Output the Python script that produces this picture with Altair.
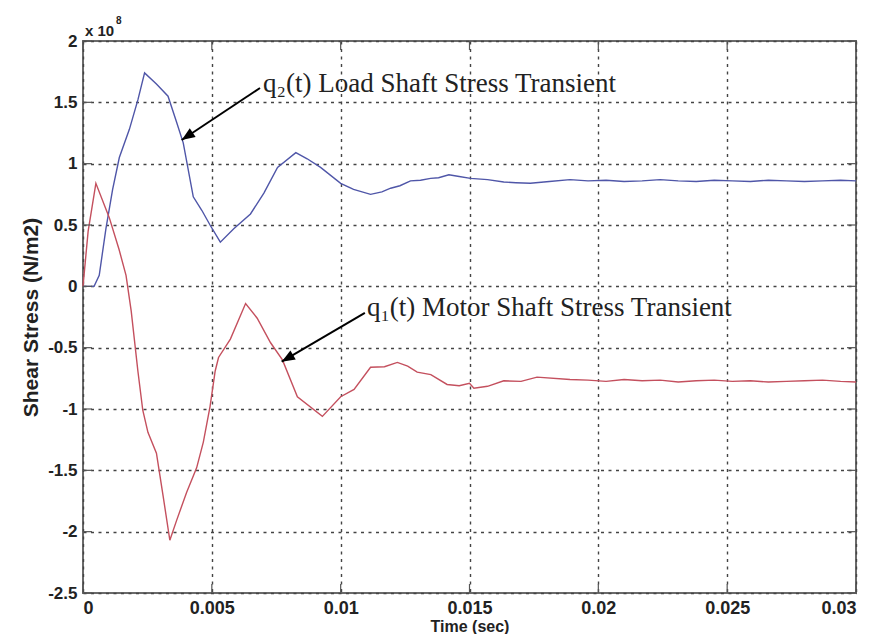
import math
import altair as alt
import pandas as pd

# ---------------- data (values in units of 1e8 N/m2) ----------------
q2_t = [0, 0.00043, 0.00063, 0.00089, 0.00115, 0.00141, 0.0018, 0.00213, 0.00239,
        0.00285, 0.0033, 0.00363, 0.00389, 0.00428, 0.00461, 0.00493, 0.00533,
        0.00585, 0.0065, 0.00702, 0.00755, 0.00826, 0.0087, 0.00922, 0.0100,
        0.0105, 0.01116, 0.0116, 0.01194, 0.0123, 0.01271, 0.0131, 0.01349, 0.0138,
        0.0142, 0.0146, 0.01504, 0.0157, 0.01633, 0.0168,
        0.01736, 0.0181, 0.0189, 0.0196, 0.0203, 0.0210, 0.0217, 0.0224, 0.0231,
        0.0238, 0.0245, 0.0252, 0.0259, 0.0266, 0.0273, 0.0280, 0.0287, 0.0294, 0.0300]
q2_v = [0, 0, 0.09, 0.47, 0.79, 1.05, 1.28, 1.52, 1.74,
        1.65, 1.55, 1.34, 1.17, 0.73, 0.62, 0.50, 0.36,
        0.47, 0.59, 0.76, 0.97, 1.09, 1.04, 0.97, 0.84,
        0.79, 0.75, 0.77, 0.80, 0.82, 0.86, 0.865, 0.88, 0.885,
        0.91, 0.895, 0.88, 0.87, 0.85, 0.845,
        0.84, 0.855, 0.87, 0.86, 0.865, 0.855, 0.86, 0.87, 0.86,
        0.855, 0.865, 0.86, 0.855, 0.865, 0.86, 0.855, 0.86, 0.865, 0.86]

q1_t = [0, 0.0002, 0.0005, 0.00102, 0.0014, 0.00167, 0.00187, 0.00213, 0.00232,
        0.00252, 0.00285, 0.00311, 0.00337, 0.00363, 0.00402, 0.00441, 0.00467,
        0.00493, 0.00513, 0.00526, 0.00572, 0.00631, 0.00676, 0.00728, 0.00774,
        0.00832, 0.00929, 0.0100, 0.01052, 0.01116, 0.0117, 0.0122, 0.0126, 0.01297,
        0.0135, 0.01413, 0.0146,
        0.0150, 0.01517, 0.0157, 0.01633, 0.0170, 0.01762, 0.0189, 0.0196, 0.0203, 0.0210, 0.0217,
        0.0224, 0.0231, 0.0238, 0.0245, 0.0252, 0.0259, 0.0266, 0.0273, 0.0280,
        0.0287, 0.0294, 0.0300]
q1_v = [0, 0.45, 0.84, 0.56, 0.30, 0.09, -0.20, -0.69, -1.01,
        -1.19, -1.36, -1.71, -2.07, -1.91, -1.68, -1.48, -1.27,
        -0.98, -0.69, -0.58, -0.43, -0.14, -0.26, -0.46, -0.60,
        -0.90, -1.06, -0.90, -0.84, -0.66, -0.655, -0.62, -0.65, -0.70,
        -0.72, -0.80, -0.81,
        -0.79, -0.83, -0.815, -0.77, -0.775, -0.74, -0.76, -0.765, -0.775, -0.76, -0.77,
        -0.765, -0.78, -0.77, -0.765, -0.775, -0.77, -0.78, -0.775, -0.77,
        -0.765, -0.775, -0.78]

x_ticks = [0, 0.005, 0.01, 0.015, 0.02, 0.025, 0.03]
y_ticks = [-2.5, -2, -1.5, -1, -0.5, 0, 0.5, 1, 1.5, 2]

ann_text = ["q\u2082(t) Load Shaft Stress Transient", "q\u2081(t) Motor Shaft Stress Transient"]
ann_tx = [0.00699, 0.01102]
ann_ty = [1.584, -0.245]
arrow_t0 = [0.00687, 0.01094]
arrow_v0 = [1.617, -0.217]
arrow_t1 = [0.00383, 0.00771]
arrow_v1 = [1.193, -0.614]

# ---------------- layout / style ----------------
W, H = 773, 552
XD = [0, 0.03]
YD = [-2.5, 2]
BLUE = "#4f56a8"
RED = "#c4505e"
SANS = "Liberation Sans"
SERIF = "Liberation Serif"

lines = pd.DataFrame(
    {"t": q2_t + q1_t, "v": q2_v + q1_v,
     "s": ["q2"] * len(q2_t) + ["q1"] * len(q1_t)}
)

xs = alt.Scale(domain=XD, nice=False, zero=False)
ys = alt.Scale(domain=YD, nice=False, zero=False)

x_axis = alt.Axis(values=x_ticks, grid=True, gridDash=[3, 4.5], gridColor="#444",
                  gridWidth=1.4, ticks=False, domain=False,
                  labelExpr="format(datum.value, '')",
                  labelFont=SANS, labelFontSize=18, labelFontWeight="bold",
                  labelColor="#222", labelPadding=6,
                  title="Time (sec)", titleFont=SANS, titleFontSize=16,
                  titleFontWeight="bold", titleColor="#222", titlePadding=1)
y_axis = alt.Axis(values=y_ticks, grid=True, gridDash=[3, 4.5], gridColor="#444",
                  gridWidth=1.4, ticks=False, domain=False,
                  labelExpr="datum.value < 0 ? '-' + format(-datum.value, '') : format(datum.value, '')",
                  labelFont=SANS, labelFontSize=17, labelFontWeight="bold",
                  labelColor="#222", labelPadding=6,
                  title="Shear Stress (N/m2)", titleFont=SANS, titleFontSize=21,
                  titleFontWeight="bold", titleColor="#222", titlePadding=6)

curves = alt.Chart(lines).mark_line(strokeWidth=1.4).encode(
    x=alt.X("t:Q", scale=xs, axis=x_axis),
    y=alt.Y("v:Q", scale=ys, axis=y_axis),
    color=alt.Color("s:N", scale=alt.Scale(domain=["q2", "q1"], range=[BLUE, RED]), legend=None),
    detail="s:N",
)

# inward MATLAB-style ticks
xt = pd.DataFrame({"t": x_ticks})
yt = pd.DataFrame({"v": y_ticks})
tick_style = dict(color="#555", strokeWidth=1.2)
xt_bottom = alt.Chart(xt).mark_rule(**tick_style).encode(
    x=alt.X("t:Q", scale=xs), y=alt.value(H), y2=alt.value(H - 9))
xt_top = alt.Chart(xt).mark_rule(**tick_style).encode(
    x=alt.X("t:Q", scale=xs), y=alt.value(0), y2=alt.value(9))
yt_left = alt.Chart(yt).mark_rule(**tick_style).encode(
    y=alt.Y("v:Q", scale=ys), x=alt.value(0), x2=alt.value(9))
yt_right = alt.Chart(yt).mark_rule(**tick_style).encode(
    y=alt.Y("v:Q", scale=ys), x=alt.value(W - 9), x2=alt.value(W))

# annotations
ann = pd.DataFrame({"label": ann_text, "t": ann_tx, "v": ann_ty})
texts = alt.Chart(ann).mark_text(font=SERIF, fontSize=27, align="left",
                                 baseline="alphabetic", color="#222").encode(
    x=alt.X("t:Q", scale=xs), y=alt.Y("v:Q", scale=ys), text="label:N")

angles = []
for a0, b0, a1, b1 in zip(arrow_t0, arrow_v0, arrow_t1, arrow_v1):
    dx = (a1 - a0) / (XD[1] - XD[0]) * W
    dy = -(b1 - b0) / (YD[1] - YD[0]) * H
    angles.append(math.degrees(math.atan2(dx, -dy)) % 360)

arr = pd.DataFrame({"t0": arrow_t0, "v0": arrow_v0, "t1": arrow_t1, "v1": arrow_v1,
                    "ang": angles})
shafts = alt.Chart(arr).mark_rule(color="black", strokeWidth=2).encode(
    x=alt.X("t0:Q", scale=xs), y=alt.Y("v0:Q", scale=ys),
    x2="t1:Q", y2="v1:Q")
heads = alt.Chart(arr).mark_point(shape="M0,0L-0.4,1L0.4,1Z", filled=True,
                                  color="black", opacity=1, size=700).encode(
    x=alt.X("t1:Q", scale=xs), y=alt.Y("v1:Q", scale=ys),
    angle=alt.Angle("ang:Q", scale=None))

# axis exponent
exp_df = pd.DataFrame({"a": [0]})
exp_base = alt.Chart(exp_df).mark_text(text="x 10", font=SANS, fontSize=15,
                                       fontWeight="bold", align="left",
                                       color="#222").encode(
    x=alt.value(2), y=alt.value(-10))
exp_pow = alt.Chart(exp_df).mark_text(text="8", font=SANS, fontSize=10,
                                      fontWeight="bold", align="left",
                                      color="#222").encode(
    x=alt.value(33), y=alt.value(-20))

chart = alt.layer(curves, xt_bottom, xt_top, yt_left, yt_right, shafts, heads,
                  texts, exp_base, exp_pow).properties(
    width=W, height=H,
    autosize=alt.AutoSizeParams(type="none"),
    padding={"left": 75, "top": 33, "right": 12, "bottom": 41},
    background="white",
).configure_view(stroke="#6a6a6a", strokeWidth=2)

chart.save("out.html", embed_options={"renderer": "svg", "actions": False})
